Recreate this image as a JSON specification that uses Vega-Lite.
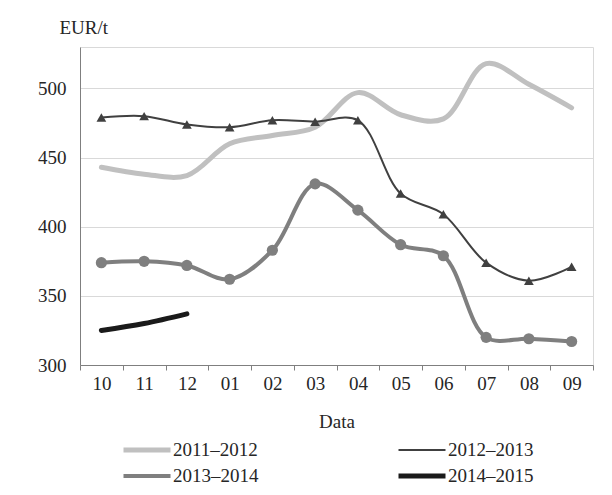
{
  "$schema": "https://vega.github.io/schema/vega-lite/v6.json",
  "autosize": "none",
  "width": 513,
  "height": 318,
  "padding": {"left": 80, "top": 47, "right": 19, "bottom": 130},
  "background": "white",
  "config": {
    "font": "Liberation Serif",
    "view": {"stroke": "#d9d9d9", "strokeWidth": 1},
    "axis": {"labelFont": "Liberation Serif", "titleFont": "Liberation Serif", "labelFontSize": 19, "titleFontSize": 19, "labelColor": "#262626", "titleColor": "#262626", "titleFontWeight": "normal", "domainColor": "#7f7f7f", "tickColor": "#7f7f7f", "gridColor": "#d9d9d9"},
    "legend": {"labelFont": "Liberation Serif", "labelFontSize": 19, "labelColor": "#262626"}
  },
  "data": {"values": [
    {"m": "10", "s": "2011–2012", "v": 443},
    {"m": "11", "s": "2011–2012", "v": 438},
    {"m": "12", "s": "2011–2012", "v": 437},
    {"m": "01", "s": "2011–2012", "v": 460},
    {"m": "02", "s": "2011–2012", "v": 466},
    {"m": "03", "s": "2011–2012", "v": 472},
    {"m": "04", "s": "2011–2012", "v": 497},
    {"m": "05", "s": "2011–2012", "v": 481},
    {"m": "06", "s": "2011–2012", "v": 478},
    {"m": "07", "s": "2011–2012", "v": 518},
    {"m": "08", "s": "2011–2012", "v": 503},
    {"m": "09", "s": "2011–2012", "v": 486},
    {"m": "10", "s": "2012–2013", "v": 479},
    {"m": "11", "s": "2012–2013", "v": 480},
    {"m": "12", "s": "2012–2013", "v": 474},
    {"m": "01", "s": "2012–2013", "v": 472},
    {"m": "02", "s": "2012–2013", "v": 477},
    {"m": "03", "s": "2012–2013", "v": 476},
    {"m": "04", "s": "2012–2013", "v": 477},
    {"m": "05", "s": "2012–2013", "v": 424},
    {"m": "06", "s": "2012–2013", "v": 409},
    {"m": "07", "s": "2012–2013", "v": 374},
    {"m": "08", "s": "2012–2013", "v": 361},
    {"m": "09", "s": "2012–2013", "v": 371},
    {"m": "10", "s": "2013–2014", "v": 374},
    {"m": "11", "s": "2013–2014", "v": 375},
    {"m": "12", "s": "2013–2014", "v": 372},
    {"m": "01", "s": "2013–2014", "v": 362},
    {"m": "02", "s": "2013–2014", "v": 383},
    {"m": "03", "s": "2013–2014", "v": 431},
    {"m": "04", "s": "2013–2014", "v": 412},
    {"m": "05", "s": "2013–2014", "v": 387},
    {"m": "06", "s": "2013–2014", "v": 379},
    {"m": "07", "s": "2013–2014", "v": 320},
    {"m": "08", "s": "2013–2014", "v": 319},
    {"m": "09", "s": "2013–2014", "v": 317},
    {"m": "10", "s": "2014–2015", "v": 325},
    {"m": "11", "s": "2014–2015", "v": 330},
    {"m": "12", "s": "2014–2015", "v": 337}
  ]},
  "encoding": {
    "x": {"field": "m", "type": "ordinal", "bandPosition": 0.5,
      "sort": ["10","11","12","01","02","03","04","05","06","07","08","09"],
      "scale": {"type": "band", "paddingInner": 0, "paddingOuter": 0},
      "axis": {"title": "Data", "labelAngle": 0, "tickBand": "extent", "tickSize": 5, "labelPadding": 4, "titlePadding": 19, "grid": false}},
    "y": {"field": "v", "type": "quantitative",
      "scale": {"domain": [300, 530], "nice": false, "zero": false},
      "axis": {"title": "EUR/t", "values": [300, 350, 400, 450, 500], "ticks": false, "labelPadding": 14, "domain": true, "grid": true, "titleAngle": 0, "titleAlign": "left", "titleBaseline": "alphabetic", "titleX": -21, "titleY": -14}}
  },
  "layer": [
    {
      "mark": {"type": "line", "interpolate": "catmull-rom", "strokeCap": "round"},
      "encoding": {
        "color": {"field": "s", "type": "nominal",
          "scale": {"domain": ["2011–2012","2012–2013","2013–2014","2014–2015"], "range": ["#c0c0c0","#404040","#7f7f7f","#1a1a1a"]},
          "legend": {"title": null, "orient": "none", "legendX": 41, "legendY": 393, "columns": 2, "columnPadding": 137, "rowPadding": 6, "symbolType": "stroke", "symbolSize": 2209, "clipHeight": 20, "labelOffset": 0, "direction": "horizontal"}},
        "strokeWidth": {"field": "s", "type": "nominal",
          "scale": {"type": "ordinal", "domain": ["2011–2012","2012–2013","2013–2014","2014–2015"], "range": [5, 2, 4, 5]}}
      }
    },
    {
      "transform": [{"filter": "datum.s == '2012–2013' || datum.s == '2013–2014'"}],
      "mark": {"type": "point", "filled": true, "opacity": 1},
      "encoding": {
        "fill": {"field": "s", "type": "nominal",
          "scale": {"domain": ["2012–2013","2013–2014"], "range": ["#404040","#7f7f7f"]}, "legend": null},
        "shape": {"field": "s", "type": "nominal",
          "scale": {"domain": ["2012–2013","2013–2014"], "range": ["triangle-up","circle"]}, "legend": null},
        "size": {"field": "s", "type": "nominal",
          "scale": {"type": "ordinal", "domain": ["2012–2013","2013–2014"], "range": [95, 125]}, "legend": null}
      }
    }
  ]
}
